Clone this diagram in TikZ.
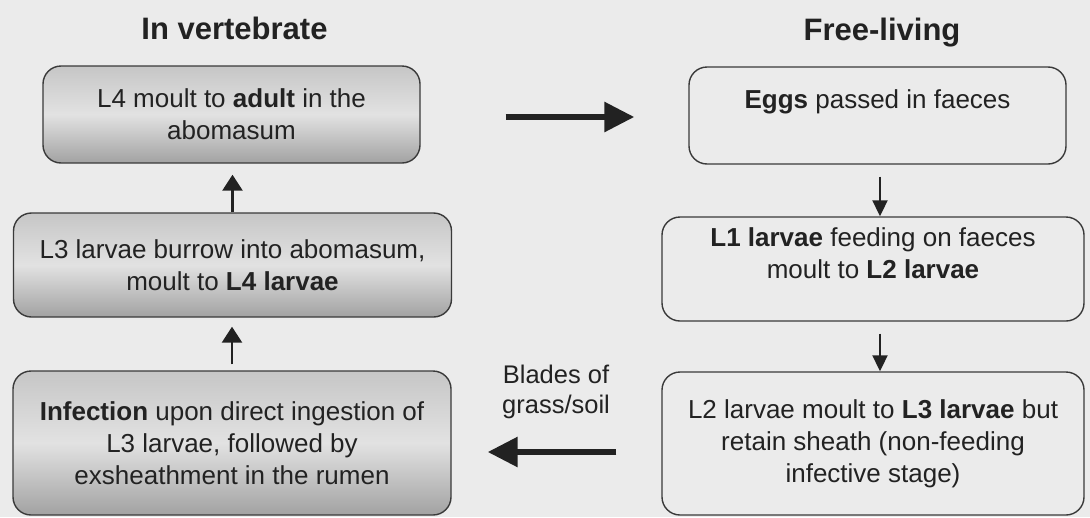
\documentclass[tikz,border=0pt]{standalone}
\usepackage{fontspec}
\setmainfont{Liberation Sans}
\usetikzlibrary{arrows.meta,calc}
\definecolor{bg}{HTML}{EBEBEB}
\definecolor{ink}{HTML}{222222}
\definecolor{edge}{HTML}{3A3A3A}
\definecolor{topg}{HTML}{C6C6C6}
\definecolor{midg}{HTML}{E2E2E2}
\definecolor{botg}{HTML}{A2A2A2}
\begin{document}
\begin{tikzpicture}[x=1pt,y=-1pt,
  font=\fontsize{26}{32}\selectfont,
  box/.style={draw=edge, line width=1.4pt, rounded corners=18pt, align=center, text=ink, inner sep=0pt},
  shadebox/.style={box, top color=topg, bottom color=botg, middle color=midg},
  plainbox/.style={box, fill=bg},
  bigarr/.style={-{Triangle[length=30pt,width=29pt]}, line width=6pt, draw=ink},
  smallarr/.style={-{Triangle[length=16pt,width=20pt]}, line width=2.6pt, draw=ink},
  tinyarr/.style={-{Triangle[length=16pt,width=15pt]}, line width=2pt, draw=ink},
  titletext/.style={font=\fontsize{31}{36}\selectfont\bfseries, text=ink, anchor=base},
  labeltext/.style={font=\fontsize{25.5}{30}\selectfont, align=center, text=ink}]

\fill[bg] (0,0) rectangle (1090,517);
\useasboundingbox (0,0) rectangle (1090,517);

% titles
\node[titletext] (t1) at (234.5,39) {In vertebrate};
\node[titletext] (t2) at (882,40) {Free-living};

% left column (in vertebrate)
\node[shadebox, minimum width=377pt, minimum height=97pt] (A) at (231.5,114.5)
  {L4 moult to \textbf{adult} in the\\abomasum};
\node[shadebox, minimum width=438pt, minimum height=104pt] (B) at (232.5,265)
  {L3 larvae burrow into abomasum,\\moult to \textbf{L4 larvae}};
\node[shadebox, minimum width=438pt, minimum height=144pt] (C) at (232,443)
  {\textbf{Infection} upon direct ingestion of\\L3 larvae, followed by\\exsheathment in the rumen};

% right column (free-living)
\node[plainbox, minimum width=377pt, minimum height=97pt] (D) at (877.5,115.5)
  {\textbf{Eggs} passed in faeces\\\mbox{}};
\node[plainbox, minimum width=422pt, minimum height=104pt] (E) at (873,269)
  {\textbf{L1 larvae} feeding on faeces\\moult to \textbf{L2 larvae}\\\mbox{}};
\node[plainbox, minimum width=422pt, minimum height=143pt] (F) at (873,443.5)
  {L2 larvae moult to \textbf{L3 larvae} but\\retain sheath (non-feeding\\infective stage)};

% label
\node[labeltext] (lab) at (556,392) {Blades of\\grass/soil};

% arrows
\draw[bigarr, shorten <=85pt, shorten >=54pt] ([yshift=-2.5pt]A.east) -- ([yshift=-2.5pt]A.east -| D.west);
\draw[bigarr, shorten <=45pt, shorten >=36pt] ([yshift=-8.5pt]F.west) -- ([yshift=-8.5pt]F.west -| C.east);
\draw[smallarr, shorten >=11pt] (B.north) -- (B.north |- A.south);
\draw[smallarr, shorten <=6pt, shorten >=9pt] (C.north) -- (C.north |- B.south);
\draw[tinyarr, shorten <=12pt] ([xshift=2.5pt]D.south) -- ([xshift=2.5pt]D.south |- E.north);
\draw[tinyarr, shorten <=12pt] ([xshift=7pt]E.south) -- ([xshift=7pt]E.south |- F.north);
\end{tikzpicture}
\end{document}
